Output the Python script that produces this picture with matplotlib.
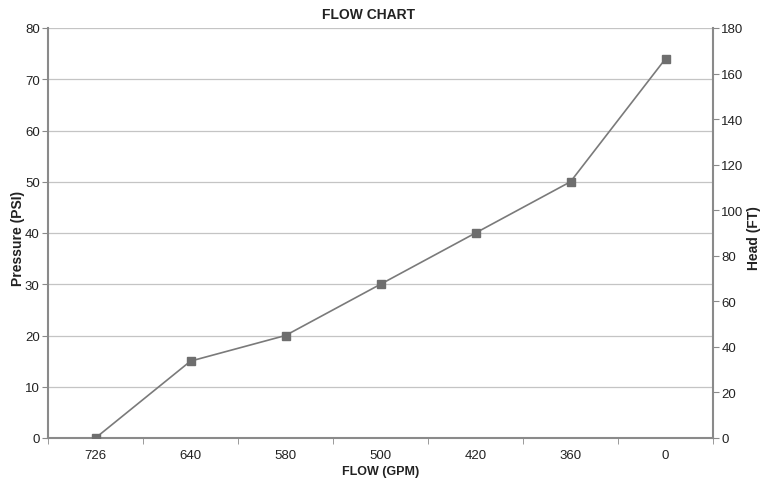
import matplotlib
matplotlib.use("Agg")
import matplotlib.pyplot as plt
from matplotlib.ticker import FixedLocator, MultipleLocator

plt.rcParams['font.family'] = ['Liberation Sans', 'DejaVu Sans']

# Data
flow_labels = ["726", "640", "580", "500", "420", "360", "0"]
pressure = [0, 15, 20, 30, 40, 50, 74]

axis_col = "#8a8a8a"
text_col = "#222222"
x = list(range(len(flow_labels)))

fig = plt.figure(figsize=(7.68, 4.81), dpi=100)
ax = fig.add_axes([48/768, 1 - 439/481, (713-48)/768, (439-29)/481])

ax.plot(x, pressure, color="#7a7a7a", linewidth=1.2, marker="s",
        markersize=5.5, markerfacecolor="#6e6e6e", markeredgecolor="#6e6e6e", zorder=3)

ax.set_xlim(-0.5, len(flow_labels) - 0.5)
ax.set_ylim(0, 80)
ax.yaxis.set_major_locator(MultipleLocator(10))
ax.set_xticks(x)
ax.set_xticklabels(flow_labels)
ax.xaxis.set_minor_locator(FixedLocator([i - 0.5 for i in range(len(flow_labels) + 1)]))
ax.tick_params(axis="x", which="major", length=0, pad=8, labelsize=9.5, colors=text_col)
ax.tick_params(axis="x", which="minor", length=4, color=axis_col, direction="out")
ax.tick_params(axis="y", length=4, pad=2, color=axis_col, labelsize=9.5, labelcolor=text_col)

ax.grid(axis="y", color="#c4c4c4", linewidth=0.9, zorder=0)
ax.set_axisbelow(True)
for side in ["top", "right"]:
    ax.spines[side].set_visible(False)
ax.spines["left"].set_color(axis_col)
ax.spines["left"].set_linewidth(1.5)
ax.spines["bottom"].set_color(axis_col)
ax.spines["bottom"].set_linewidth(1.5)

ax2 = ax.twinx()
ax2.set_ylim(0, 180)
ax2.yaxis.set_major_locator(MultipleLocator(20))
ax2.tick_params(axis="y", length=4, pad=2, color=axis_col, labelsize=9.5, labelcolor=text_col)
for side in ["top", "left", "bottom"]:
    ax2.spines[side].set_visible(False)
ax2.spines["right"].set_color(axis_col)
ax2.spines["right"].set_linewidth(1.5)

fig.text(369/768, 1 - 15/481, "FLOW CHART", fontsize=10, fontweight="bold",
         color=text_col, ha="center", va="center")
ax.set_xlabel("FLOW (GPM)", fontsize=9, fontweight="bold", labelpad=3, color=text_col)
ax.set_ylabel("Pressure (PSI)", fontsize=10, fontweight="bold", color=text_col, va="center")
ax.yaxis.set_label_coords(-0.045, 0.49)
ax2.set_ylabel("Head (FT)", fontsize=10, fontweight="bold", color=text_col, va="center")
ax2.yaxis.set_label_coords(1.061, 0.49)

fig.savefig("out.png", dpi=100)
